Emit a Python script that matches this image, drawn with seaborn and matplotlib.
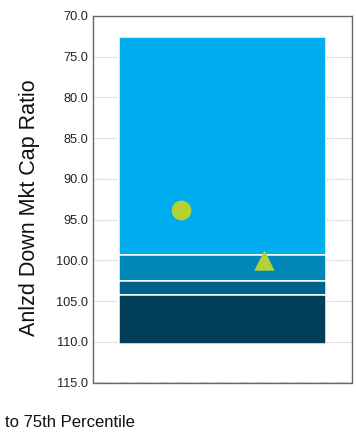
import matplotlib
matplotlib.use("Agg")
import matplotlib.pyplot as plt
import seaborn as sns
import pandas as pd

# Percentile bands of the peer group (lower edge, upper edge)
band_names = ["5th to 25th Percentile", "25th to Median", "Median to 75th Percentile", "75th to 95th Percentile"]
band_low = [72.6, 99.4, 102.5, 104.2]
band_high = [99.4, 102.5, 104.2, 110.3]
band_colors = ["#00adee", "#0087b9", "#006189", "#003f57"]

# Fund (circle) and benchmark (triangle)
fund_value = 93.8
benchmark_value = 100.0

y_ticks = [70.0, 75.0, 80.0, 85.0, 90.0, 95.0, 100.0, 105.0, 110.0, 115.0]
y_tick_labels = ["70.0", "75.0", "80.0", "85.0", "90.0", "95.0", "100.0", "105.0", "110.0", "115.0"]

sns.set_style("white")
plt.rcParams["font.family"] = ["Liberation Sans", "DejaVu Sans"]

W, H = 356, 434
fig = plt.figure(figsize=(W / 100, H / 100), dpi=100)
ax = fig.add_axes([93 / W, 1 - 382.5 / H, 259 / W, 366.5 / H])

bands = pd.DataFrame({"band": band_names, "low": band_low, "high": band_high, "color": band_colors})
bands["size"] = bands["high"] - bands["low"]

for _, row in bands.iterrows():
    sns.barplot(x=["Peer"], y=[row["size"]], bottom=row["low"], color=row["color"],
                saturation=1, width=0.8, errorbar=None, edgecolor="white",
                linewidth=1.1, ax=ax, zorder=2)

lime = "#b5d234"
sns.scatterplot(x=[-0.16], y=[fund_value], marker="o", s=200, color=lime,
                linewidth=0, ax=ax, zorder=4)
sns.scatterplot(x=[0.16], y=[benchmark_value], marker="^", s=215, color=lime,
                linewidth=0, ax=ax, zorder=4)

ax.set_xlim(-0.5, 0.5)
ax.set_ylim(115, 70)
ax.set_xticks([])
ax.set_xlabel("")
ax.set_yticks(y_ticks)
ax.set_yticklabels(y_tick_labels, fontsize=9.2, color="#222222")
ax.tick_params(axis="y", length=0, pad=3.5)
ax.set_ylabel("Anlzd Down Mkt Cap Ratio", fontsize=15.5, color="#111111")
ax.yaxis.set_label_coords(-0.205, 0.478)

ax.set_axisbelow(True)
ax.yaxis.grid(True, linestyle=(0, (1, 1)), color="#c4c4c4", linewidth=0.8)
for side in ["left", "right", "top", "bottom"]:
    ax.spines[side].set_visible(True)
    ax.spines[side].set_color("#666666")
    ax.spines[side].set_linewidth(1.0)

fig.text(5 / W, 1 - 427 / H, "to 75th Percentile", fontsize=12, va="baseline",
         ha="left", color="#111111")

fig.savefig("out.png", dpi=100)
